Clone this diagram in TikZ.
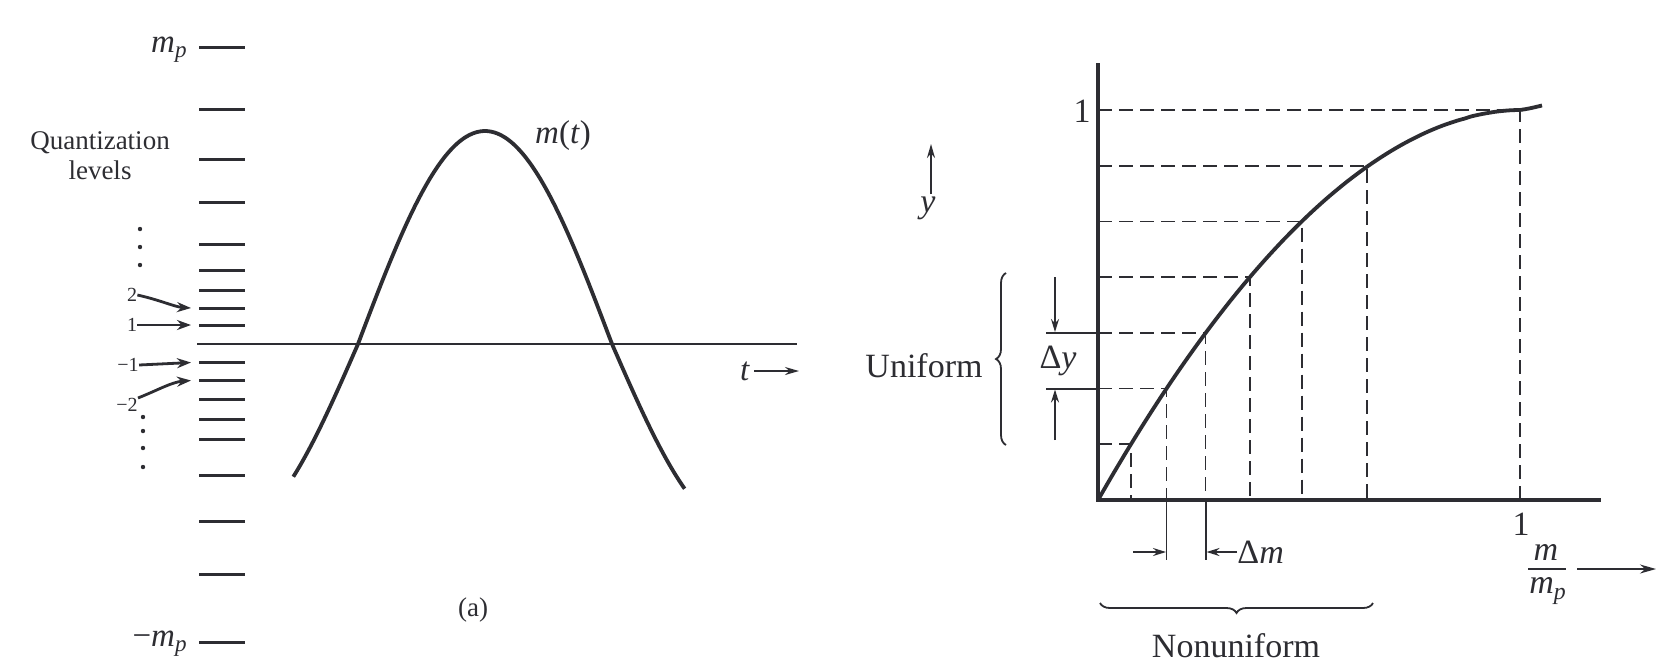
\documentclass[tikz,border=0pt]{standalone}
\usepackage{fontspec}
\setmainfont{Liberation Serif}
\usetikzlibrary{arrows.meta,decorations.pathreplacing,calc}
\definecolor{ink}{RGB}{45,45,50}
\begin{document}
\begin{tikzpicture}[x=0.5pt,y=-0.5pt,color=ink,
  every node/.style={text=ink,inner sep=0pt},
  tickline/.style={line width=1.5pt},
  taxis/.style={line width=1.1pt},
  sigcurve/.style={line width=1.9pt},
  mainaxis/.style={line width=1.8pt},
  guide/.style={line width=0.85pt,dash pattern=on 7pt off 3.5pt},
  extline/.style={line width=0.9pt},
  qarrow/.style={line width=1.4pt,-{Stealth[length=7pt,width=5pt]}},
  smallarrow/.style={line width=0.9pt,-{Stealth[length=6.5pt,width=4pt]}},
  lefttext/.style={font=\fontsize{13.5}{15}\selectfont},
  smalldigit/.style={font=\fontsize{10}{12}\selectfont},
  symtext/.style={font=\fontsize{16.5}{19}\selectfont},
  righttext/.style={font=\fontsize{17}{20}\selectfont},
  bracestyle/.style={line width=0.9pt,decorate,decoration={brace,amplitude=5pt}},
  dotmark/.style={fill=ink}]
\fill[white] (0,0) rectangle (1659,671);
\useasboundingbox (0,0) rectangle (1659,671);

% ---------------- left panel ----------------
\foreach \d in {-296.5,-234.7,-184.7,-141.3,-100,-73.3,-53.3,-35.7,-18.7,18.7,36.7,55.3,75.3,95.3,131,177.7,230,298}
  \draw[tickline] (199,{344+\d}) -- (245,{344+\d});
\coordinate (tstart) at (197,344);
\coordinate (tstop) at (797,344);
\draw[taxis] (tstart) -- (tstop);

\node[symtext,anchor=east] (mptop) at (188,50) {\textit{m}\textsubscript{\textit{p}}};
\node[symtext,anchor=east] (mpbot) at (188,644) {−\textit{m}\textsubscript{\textit{p}}};
\node[lefttext,align=center] (qlev) at (100,156) {Quantization\\levels};

% level arrows
\coordinate (lvA) at (191,308);
\coordinate (lvB) at (191,325);
\coordinate (lvC) at (191,362.5);
\coordinate (lvD) at (191,380.5);
\node[smalldigit] (dtwo) at (132,295) {2};
\node[smalldigit] (done) at (132,325) {1};
\node[smalldigit] (dmone) at (128,365) {−1};
\node[smalldigit] (dmtwo) at (127,405) {−2};
\draw[qarrow] (dtwo.east) .. controls (160,300) and (175,307) .. (lvA);
\draw[qarrow] (done.east) -- (lvB);
\draw[qarrow] (dmone.east) -- (lvC);
\draw[qarrow] (dmtwo.north east) .. controls (158,390) and (172,382) .. (lvD);
\foreach \yy in {229,247,265}
  \fill[dotmark] (140,\yy) circle (1.1pt);
\foreach \yy in {417,431,448,467}
  \fill[dotmark] (143,\yy) circle (1.1pt);

% signal
\draw[sigcurve] plot[domain=-0.80:4.04,samples=110,smooth]
  ({358+\x/pi*254},{344-sin(\x r)*(sin(\x r)>0 ? 213 : 185)});
\node[symtext] (mtlab) at (563,136) {\textit{m}(\textit{t})};
\node[symtext] (tlab) at (745,371) {\textit{t}};
\coordinate (tarrowend) at (799,371);
\draw[line width=0.9pt,-{Stealth[length=7pt,width=4pt]}] ([xshift=2pt]tlab.east) -- (tarrowend);
\node[lefttext] (capa) at (473,610) {(a)};

% ---------------- right panel ----------------
\coordinate (O) at (1098,500);
\coordinate (ytop) at (1098,63);
\coordinate (xend) at (1601,500);
\foreach \k in {1,...,6}{
  \pgfmathsetmacro\xx{1098+422*(1-(1-\k/7)^(1/1.9))}
  \pgfmathsetmacro\yy{500-390*\k/7}
  \draw[guide] (1098,\yy) -- (\xx,\yy) -- (\xx,500);
}
\draw[guide] (1098,110) -- (1520,110) -- (1520,500);
\draw[mainaxis] (ytop) -- (O) -- (xend);
\draw[sigcurve] plot[domain=0:0.995,samples=90,smooth] ({1098+422*\x},{500-390*(1-(1-\x)^1.9)})
  -- (1520,110) .. controls (1529,108.6) .. (1542,105.5);

\node[righttext] (yone) at (1082,111) {1};
\node[righttext] (xone) at (1521,524) {1};

% Delta m
\coordinate (dmA) at (1166.5,500);
\coordinate (dmB) at (1205.7,500);
\draw[extline] (dmA) -- ++(0,60) coordinate (dmAb);
\draw[extline] (dmB) -- ++(0,60) coordinate (dmBb);
\coordinate (dmarrowtail) at (1133,552);
\draw[smallarrow] (dmarrowtail) -- (1166,552);
\node[righttext,anchor=west] (dmlab) at (1237,552) {Δ\textit{m}};
\draw[smallarrow] (dmlab.west) -- (1206.5,552);
\draw[bracestyle] (1373,603) -- (1100,603);
\node[righttext] (nonu) at (1236,646) {Nonuniform};

% Delta y
\coordinate (dyA) at (1046,332.9);
\coordinate (dyB) at (1046,388.6);
\draw[extline] (dyA) -- (1098,332.9);
\draw[extline] (dyB) -- (1098,388.6);
\coordinate (dydowntail) at (1055,277);
\coordinate (dyuptail) at (1055,440);
\draw[smallarrow] (dydowntail) -- (1055,332);
\draw[smallarrow] (dyuptail) -- (1055,389.5);
\node[righttext] (dylab) at (1058,361) {Δ\textit{y}};
\draw[bracestyle] (1006,445) -- (1006,273);
\node[righttext] (unif) at (924,366) {Uniform};

% y label
\node[righttext] (ylab) at (928,208) {\textit{y}};
\coordinate (yarrowtop) at (931,144);
\draw[line width=0.9pt,-{Stealth[length=7pt,width=4pt]}] ([yshift=1pt]ylab.north -| yarrowtop) -- (yarrowtop);

% m / m_p
\node[righttext] (mnum) at (1546,552) {\textit{m}};
\node[righttext] (mden) at (1548,591) {\textit{m}\textsubscript{\textit{p}}};
\draw[line width=0.8pt] (1528,569) -- (1566,569);
\coordinate (marrowtail) at (1577,569);
\coordinate (marrowhead) at (1656,569);
\draw[line width=0.9pt,-{Stealth[length=8pt,width=4.5pt]}] (marrowtail) -- (marrowhead);
\end{tikzpicture}
\end{document}
